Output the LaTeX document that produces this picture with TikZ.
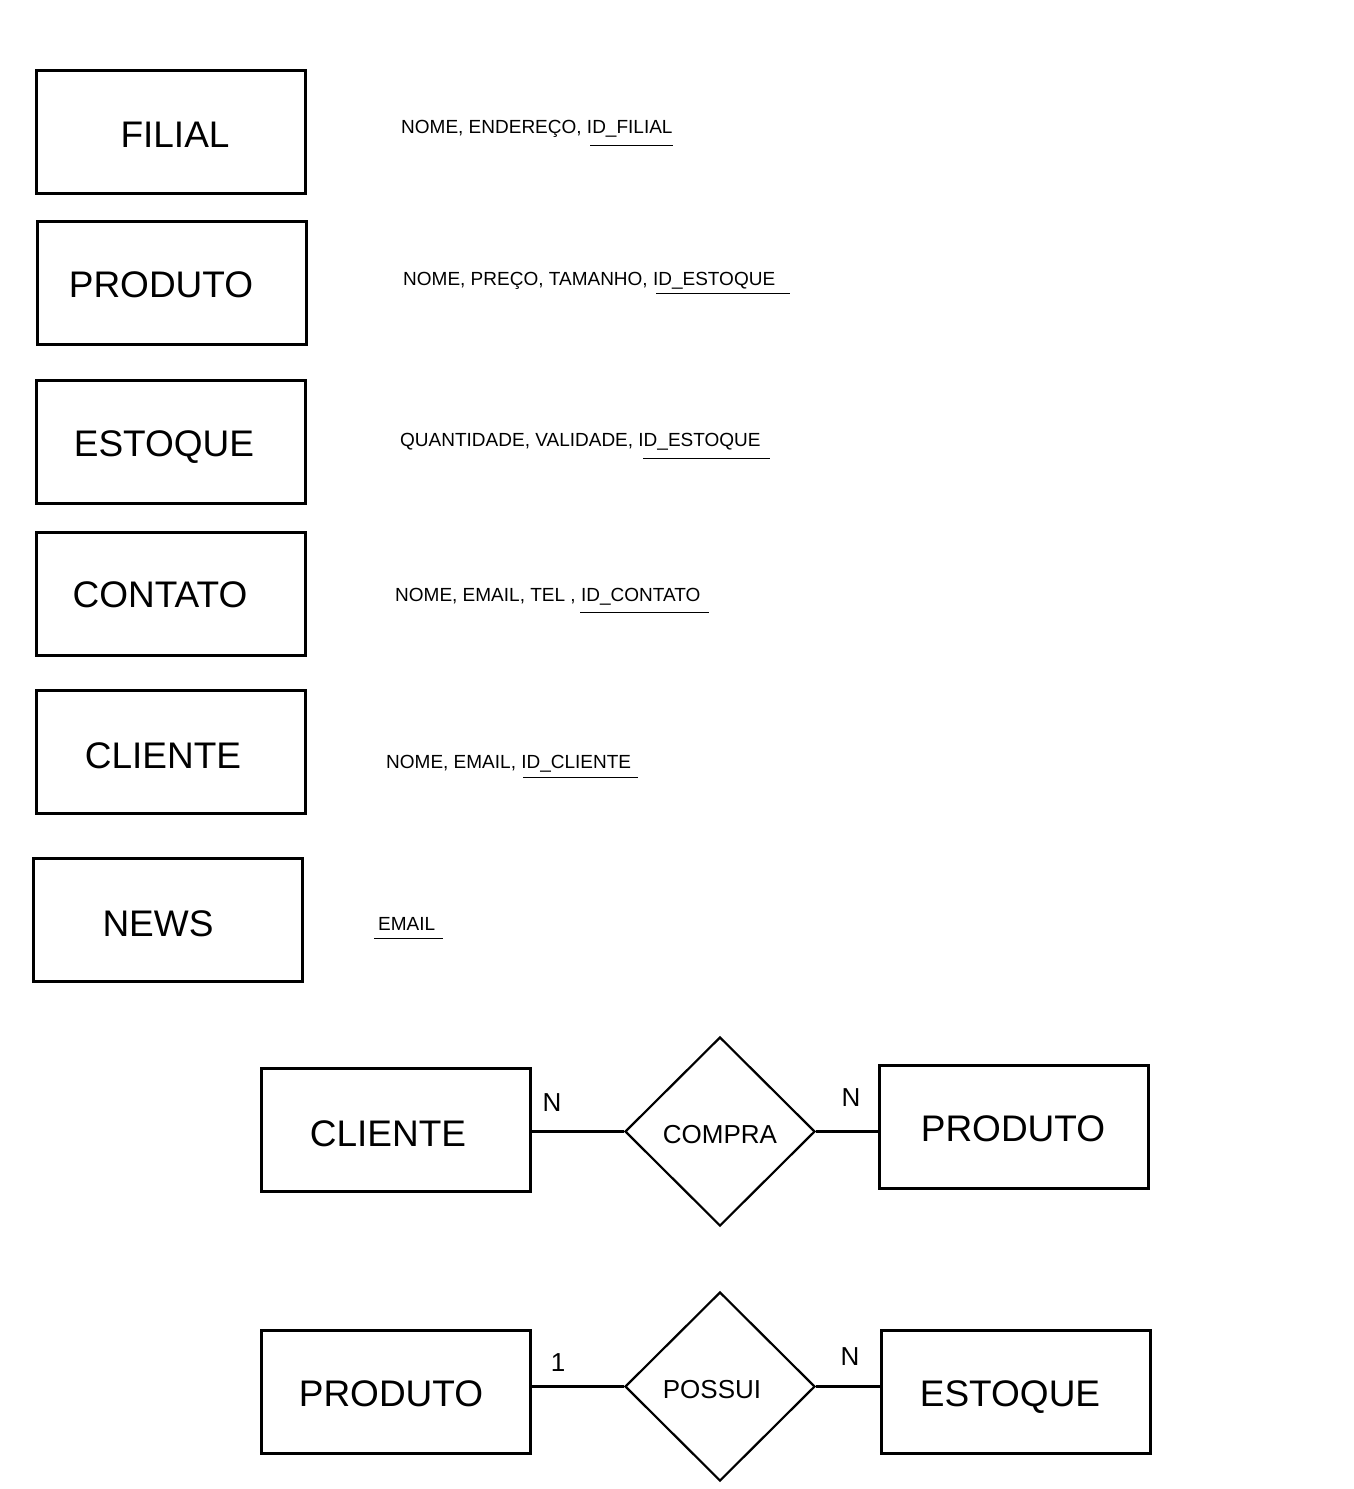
\documentclass[tikz,border=0pt]{standalone}
\usepackage{fontspec}
\setmainfont{Liberation Sans}
\usetikzlibrary{shapes.geometric}
\begin{document}
\begin{tikzpicture}[x=1pt,y=-1pt,
  entbox/.style={draw,line width=3pt,rectangle,minimum width=269pt,minimum height=123pt,inner sep=0pt},
  enttext/.style={anchor=base,inner sep=0pt,font=\fontsize{37}{40}\selectfont},
  attr/.style={anchor=base west,inner sep=0pt,font=\fontsize{19}{22}\selectfont},
  uline/.style={line width=1pt},
  rel/.style={draw,line width=2.2pt,diamond,minimum width=190pt,minimum height=189pt,inner sep=0pt},
  reltext/.style={anchor=base,inner sep=0pt,font=\fontsize{26}{28}\selectfont},
  card/.style={anchor=base,inner sep=0pt,font=\fontsize{26}{28}\selectfont},
  conn/.style={line width=3pt}]
\useasboundingbox[fill=white] (0,0) rectangle (1354,1489);

% entity list
\node[entbox] (filial) at (170.5,131.5) {};
\node[enttext] (filialt) at (175,147) {FILIAL};
\node[entbox] (produto) at (171.5,282.5) {};
\node[enttext] (produtot) at (161,297.5) {PRODUTO};
\node[entbox] (estoque) at (170.5,441.5) {};
\node[enttext] (estoquet) at (164,456.5) {ESTOQUE};
\node[entbox] (contato) at (170.5,593.5) {};
\node[enttext] (contatot) at (160,607.5) {CONTATO};
\node[entbox] (cliente) at (170.5,751.5) {};
\node[enttext] (clientet) at (163,768.5) {CLIENTE};
\node[entbox] (news) at (167.5,920) {};
\node[enttext] (newst) at (158,936.5) {NEWS};

% attributes
\node[attr] (afilial) at (401,133) {NOME, ENDEREÇO, ID\_FILIAL};
\draw[uline] (590,145) -- (673,145);
\node[attr] (aproduto) at (403,285) {NOME, PREÇO, TAMANHO, ID\_ESTOQUE};
\draw[uline] (656,293.5) -- (790,293.5);
\node[attr] (aestoque) at (400,446) {QUANTIDADE, VALIDADE, ID\_ESTOQUE};
\draw[uline] (643,458) -- (770,458);
\node[attr] (acontato) at (395,601) {NOME, EMAIL, TEL , ID\_CONTATO};
\draw[uline] (580,612) -- (709,612);
\node[attr] (acliente) at (386,768) {NOME, EMAIL, ID\_CLIENTE};
\draw[uline] (523,777.5) -- (638,777.5);
\node[attr] (anews) at (378,930) {EMAIL};
\draw[uline] (374,938) -- (443,938);

% relationship COMPRA
\node[entbox] (cliente2) at (396,1129.5) {};
\node[enttext] (cliente2t) at (388,1146.5) {CLIENTE};
\node[rel] (compra) at (720,1131.5) {};
\node[reltext] (comprat) at (720,1143) {COMPRA};
\node[entbox] (produto2) at (1014,1126.5) {};
\node[enttext] (produto2t) at (1013,1141.5) {PRODUTO};
\draw[conn] (compra.west) -- (compra.west -| cliente2.east);
\draw[conn] (compra.east) -- (compra.east -| produto2.west);
\node[card] (n1) at (552,1111) {N};
\node[card] (n2) at (851,1106) {N};

% relationship POSSUI
\node[entbox] (produto3) at (396,1391.5) {};
\node[enttext] (produto3t) at (391,1406.5) {PRODUTO};
\node[rel] (possui) at (720,1386.5) {};
\node[reltext] (possuit) at (712,1398) {POSSUI};
\node[entbox] (estoque2) at (1016,1391.5) {};
\node[enttext] (estoque2t) at (1010,1406.5) {ESTOQUE};
\draw[conn] (possui.west) -- (possui.west -| produto3.east);
\draw[conn] (possui.east) -- (possui.east -| estoque2.west);
\node[card] (one) at (558,1371) {1};
\node[card] (n3) at (850,1365) {N};
\end{tikzpicture}
\end{document}
